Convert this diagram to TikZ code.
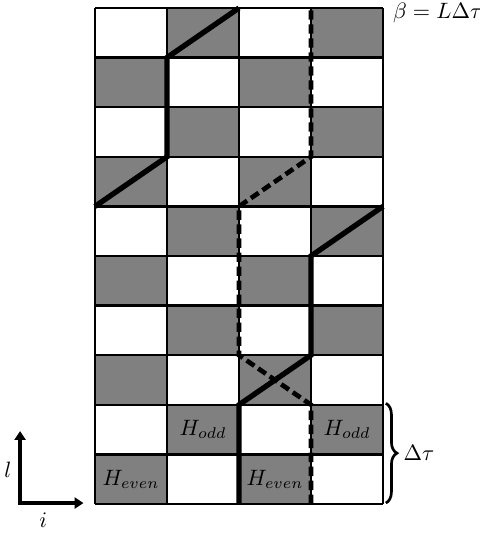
\documentclass[tikz,border=0pt]{standalone}
\usetikzlibrary{arrows.meta,decorations.pathreplacing}
\definecolor{cellGray}{HTML}{808080}
\tikzset{
  wl cell/.style={fill=cellGray},
  wl grid/.style={draw=black, line width=1pt},
  wl solid/.style={draw=black, line width=2.4pt},
  wl dashed/.style={draw=black, line width=2.1pt, dash pattern=on 4.2pt off 2.1pt},
  wl axis/.style={{Triangle[length=4pt,width=5pt]}-{Triangle[length=4pt,width=5pt]},
    draw=black, line width=2pt},
  wl brace/.style={draw=black, line width=1.2pt, decorate,
    decoration={brace, amplitude=5pt}}
}

\begin{document}
\begin{tikzpicture}[x=32.4pt,y=22.32pt]
  \useasboundingbox (-1.319,-0.685) rectangle (5.347,10.161);
  % checkerboard of the Trotter slices
  \foreach \i in {0,...,3}
    \foreach \l in {0,...,9} {
      \pgfmathtruncatemacro{\slicepar}{mod(\i+\l,2)}
      \ifnum\slicepar=0 \fill[wl cell] (\i,\l) rectangle ++(1,1); \fi
    }
  \foreach \i in {0,...,4} \draw[wl grid] (\i,0) -- (\i,10);
  \foreach \l in {0,...,10} \draw[wl grid] (0,\l) -- (4,\l);
  % world lines
  \draw[wl solid] (2,0) -- (2,2) -- (3,3) -- (3,5) -- (4,6);
  \draw[wl solid] (0,6) -- (1,7) -- (1,9) -- (2,10);
  \draw[wl dashed] (3,0) -- (3,2) -- (2,3) -- (2,6) -- (3,7) -- (3,10);
  % slice labels
  \node (oddA) at (1.5,1.5) {$H_{odd}$};
  \node (oddB) at (3.5,1.5) {$H_{odd}$};
  \node (evenA) at (0.5,0.5) {$H_{even}$};
  \node (evenB) at (2.5,0.5) {$H_{even}$};
  \node[anchor=west] (beta) at (4.03,9.9) {$\beta=L\Delta\tau$};
  % time step
  \coordinate (braceTop) at (4.04,2.03);
  \coordinate (braceBot) at (4.04,0.02);
  \draw[wl brace] (braceTop) -- (braceBot);
  \node (dtau) at (4.5,1.03) {$\Delta\tau$};
  % axes
  \coordinate (origin) at (-1.04,0.02);
  \coordinate (lTip) at (-1.04,1.47);
  \coordinate (iTip) at (-0.16,0.02);
  \draw[wl axis] (lTip) -- (origin) -- (iTip);
  \node (lLab) at (-1.21,0.69) {$l$};
  \node (iLab) at (-0.72,-0.33) {$i$};
\end{tikzpicture}
\end{document}
